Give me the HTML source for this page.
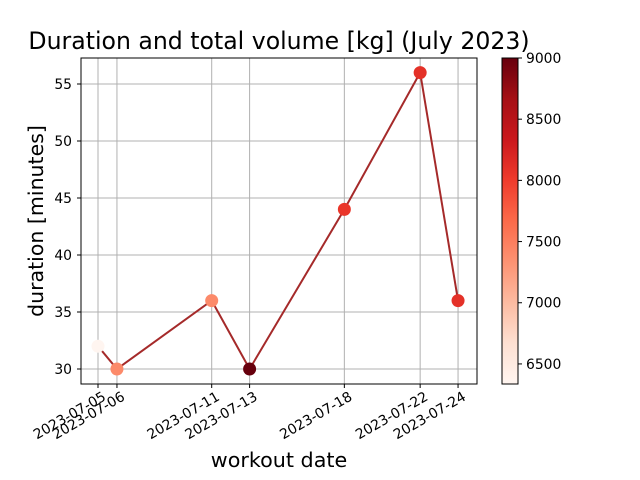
<!DOCTYPE html>
<html><head><meta charset="utf-8"><style>body{margin:0;background:#fff}svg{display:block}</style></head>
<body>
<svg id="chart" width="640" height="480" xmlns="http://www.w3.org/2000/svg" font-family="'DejaVu Sans','Liberation Sans',sans-serif">
<defs><linearGradient id="cbg" x1="0" y1="1" x2="0" y2="0">
<stop offset="0" stop-color="#fff5f0"/><stop offset="0.125" stop-color="#fee0d2"/><stop offset="0.25" stop-color="#fcbba1"/><stop offset="0.375" stop-color="#fc9272"/><stop offset="0.5" stop-color="#fb6a4a"/><stop offset="0.625" stop-color="#ef3b2c"/><stop offset="0.75" stop-color="#cb181d"/><stop offset="0.875" stop-color="#a50f15"/><stop offset="1" stop-color="#67000d"/>
</linearGradient></defs>
<text x="279" y="49" font-size="23.6" text-anchor="middle">Duration and total volume [kg] (July 2023)</text>
<g id="grid"></g>
<g id="plot"></g>
<rect x="81" y="58" width="396" height="326" fill="none" stroke="#000" stroke-width="1"/>
<g id="axes"></g>
<text x="279" y="467" font-size="20.7" text-anchor="middle">workout date</text>
<text transform="translate(43,221) rotate(-90)" font-size="20.5" text-anchor="middle">duration [minutes]</text>
<rect x="502" y="58" width="16" height="326" fill="url(#cbg)" stroke="#000" stroke-width="1"/>
<g id="cbticks"></g>
</svg>
<script>
const dates=["2023-07-05","2023-07-06","2023-07-11","2023-07-13","2023-07-18","2023-07-22","2023-07-24"];
const durations=[32,30,36,30,44,56,36];
const volumes=[6340,7400,7400,9000,8050,8100,8100];
const yTicks=[30,35,40,45,50,55];
const cbTicks=[6500,7000,7500,8000,8500,9000];
const vmin=6336,vmax=9000;
const NS="http://www.w3.org/2000/svg";
function day(d){return (Date.parse(d)-Date.parse("2023-07-05"))/86400000;}
function xs(d){return 98+day(d)*18.95;}
function ys(v){return 369-(v-30)*11.4;}
function cy(v){return 384-(v-vmin)/(vmax-vmin)*326;}
const stops=["#fff5f0","#fee0d2","#fcbba1","#fc9272","#fb6a4a","#ef3b2c","#cb181d","#a50f15","#67000d"].map(h=>[1,3,5].map(i=>parseInt(h.substr(i,2),16)));
function cmap(v){let t=Math.max(0,Math.min(1,(v-vmin)/(vmax-vmin)))*8;let i=Math.min(7,Math.floor(t)),f=t-i;const c=stops[i].map((a,k)=>Math.round(a+(stops[i+1][k]-a)*f));return `rgb(${c})`;}
function mk(tag,attrs,parent){const e=document.createElementNS(NS,tag);for(const k in attrs)e.setAttribute(k,attrs[k]);parent.appendChild(e);return e;}
const grid=document.getElementById('grid'),plot=document.getElementById('plot'),axes=document.getElementById('axes'),cbt=document.getElementById('cbticks');
dates.forEach(d=>{const x=xs(d);
 const g=mk('line',{x1:x,x2:x,y1:58,y2:384,stroke:'#b0b0b0','stroke-width':1},grid);
 
 
 const t=mk('line',{x1:x,x2:x,y1:384,y2:388,stroke:'#000'},axes);
 
 
 const l=mk('text',{transform:`translate(${x+4},${391}) rotate(-30)`,'text-anchor':'end','dominant-baseline':'hanging','font-size':13.9},axes);
 l.textContent=d;
 
 
});
yTicks.forEach(v=>{const y=ys(v);
 const g=mk('line',{x1:81,x2:477,y1:y,y2:y,stroke:'#b0b0b0','stroke-width':1},grid);
 
 
 const t=mk('line',{x1:77,x2:81,y1:y,y2:y,stroke:'#000'},axes);
 
 
 const l=mk('text',{x:72,y:y+5,'text-anchor':'end','font-size':13.9},axes);
 l.textContent=v;
 
 
});
const line=mk('polyline',{points:dates.map((d,i)=>xs(d)+','+ys(durations[i])).join(' '),fill:'none',stroke:'#a52a2a','stroke-width':2},plot);


dates.forEach((d,i)=>{const c=mk('circle',{cx:xs(d),cy:ys(durations[i]),r:6.5,fill:cmap(volumes[i])},plot);
 
 
});
cbTicks.forEach(v=>{const y=cy(v);
 const t=mk('line',{x1:518,x2:522,y1:y,y2:y,stroke:'#000'},cbt);
 
 
 const l=mk('text',{x:526,y:y+5,'font-size':13.9},cbt);
 l.textContent=v;
 
 
});
</script>
</body></html>
